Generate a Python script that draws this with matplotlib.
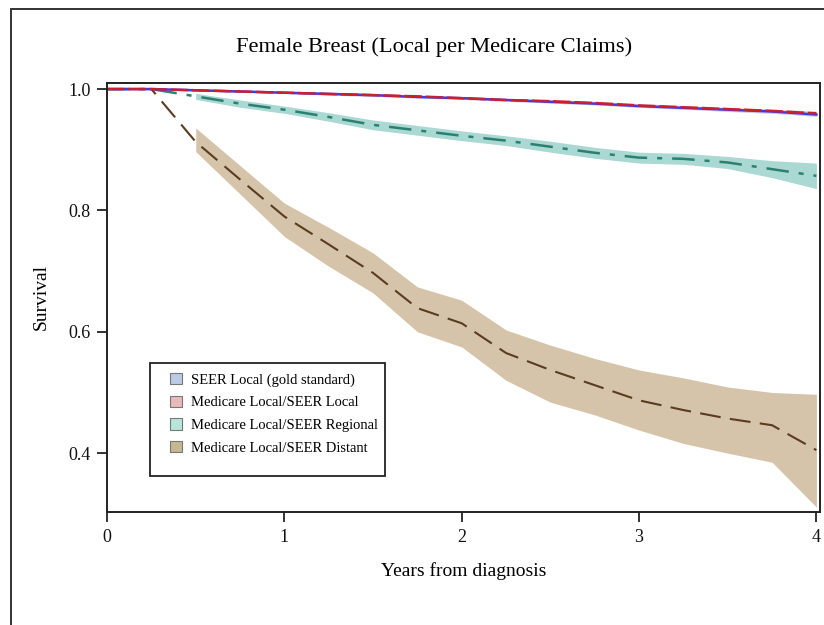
import matplotlib
matplotlib.use("Agg")
import matplotlib.pyplot as plt
from matplotlib.patches import Patch, Rectangle

plt.rcParams['font.family'] = ['Liberation Serif', 'DejaVu Serif']

# quarterly time points (years from diagnosis)
years = [0, 0.25, 0.5, 0.75, 1.0, 1.25, 1.5, 1.75, 2.0, 2.25, 2.5, 2.75, 3.0, 3.25, 3.5, 3.75, 4.0]

seer_local = [1.0, 1.0, 0.998, 0.996, 0.994, 0.992, 0.990, 0.987, 0.985, 0.982, 0.979, 0.976, 0.972, 0.969, 0.966, 0.963, 0.958]
seer_local_lo = [1.0, 1.0, 0.997, 0.995, 0.993, 0.990, 0.988, 0.985, 0.983, 0.980, 0.977, 0.974, 0.970, 0.967, 0.963, 0.960, 0.955]
seer_local_hi = [1.0, 1.0, 0.999, 0.997, 0.995, 0.994, 0.992, 0.989, 0.987, 0.984, 0.981, 0.978, 0.974, 0.971, 0.969, 0.966, 0.961]

med_local = [1.0, 1.0, 0.998, 0.996, 0.994, 0.992, 0.990, 0.988, 0.985, 0.982, 0.980, 0.977, 0.973, 0.970, 0.967, 0.964, 0.960]
med_local_lo = [1.0, 1.0, 0.997, 0.995, 0.993, 0.990, 0.988, 0.986, 0.983, 0.980, 0.977, 0.974, 0.970, 0.967, 0.964, 0.961, 0.956]
med_local_hi = [1.0, 1.0, 0.999, 0.997, 0.995, 0.994, 0.992, 0.990, 0.987, 0.984, 0.983, 0.980, 0.976, 0.973, 0.970, 0.967, 0.964]

# regional and distant bands start at 0.5 years
band_years = years[2:]

med_regional = [1.0, 1.0, 0.988, 0.976, 0.966, 0.954, 0.941, 0.932, 0.923, 0.915, 0.905, 0.895, 0.887, 0.885, 0.879, 0.868, 0.857]
regional_lo = [0.983, 0.970, 0.960, 0.947, 0.933, 0.924, 0.915, 0.907, 0.896, 0.886, 0.878, 0.876, 0.869, 0.854, 0.836]
regional_hi = [0.993, 0.982, 0.972, 0.961, 0.949, 0.940, 0.931, 0.923, 0.914, 0.904, 0.896, 0.894, 0.889, 0.882, 0.878]

med_distant = [1.0, 1.0, 0.913, 0.851, 0.790, 0.744, 0.697, 0.639, 0.614, 0.565, 0.537, 0.512, 0.487, 0.471, 0.457, 0.446, 0.405]
distant_lo = [0.897, 0.827, 0.757, 0.708, 0.664, 0.600, 0.575, 0.520, 0.484, 0.463, 0.438, 0.416, 0.400, 0.385, 0.311]
distant_hi = [0.936, 0.874, 0.812, 0.772, 0.730, 0.674, 0.652, 0.603, 0.578, 0.556, 0.537, 0.524, 0.509, 0.500, 0.497]

labels = ["SEER Local (gold standard)", "Medicare Local/SEER Local",
          "Medicare Local/SEER Regional", "Medicare Local/SEER Distant"]
legend_colors = ["#b9cbe6", "#eab9b9", "#b6e6da", "#c3b88f"]

fig = plt.figure(figsize=(8.24, 6.25), dpi=100)
ax = fig.add_axes([0.1299, 0.1808, 0.8652, 0.6864])

# outer frame of the figure (cut at right and bottom)
fig.patches.append(Rectangle((11 / 824, -0.2), 1.5, 1.2 - 9 / 625, transform=fig.transFigure,
                             fill=False, edgecolor="#333333", linewidth=1.4, clip_on=False))

# bands
ax.fill_between(band_years, distant_lo, distant_hi, color="#d6c4aa", linewidth=0)
ax.fill_between(band_years, regional_lo, regional_hi, color="#aad8d2", linewidth=0)
ax.fill_between(years, seer_local_lo, seer_local_hi, color="#c8cdf0", linewidth=0)
ax.fill_between(years, med_local_lo, med_local_hi, color="#eec6c6", linewidth=0, alpha=0.8)

# lines
ax.plot(years, med_distant, color="#5a3c20", linewidth=1.5, dashes=(10, 4.5))
ax.plot(years, med_regional, color="#2b8070", linewidth=1.8, dashes=(9, 4, 2, 4))
ax.plot(years, seer_local, color="#3a3cf0", linewidth=1.8)
ax.plot(years, med_local, color="#c8202e", linewidth=1.8, dashes=(7, 1.5))

ax.set_xlim(0, 4.02)
ax.set_ylim(0.303, 1.01)
ax.set_xticks([0, 1, 2, 3, 4])
ax.set_yticks([0.4, 0.6, 0.8, 1.0])
ax.set_yticklabels(["0.4", "0.6", "0.8", "1.0"])
ax.tick_params(direction="out", length=7, width=1.2, labelsize=13, colors="#111111", pad=5)
for s in ax.spines.values():
    s.set_linewidth(1.4)
    s.set_color("#222222")

fig.text(434 / 824, 1 - 47 / 625, "Female Breast (Local per Medicare Claims)",
         fontsize=16.2, ha="center", va="center")
ax.set_xlabel("Years from diagnosis", fontsize=14, labelpad=12)
ax.set_ylabel("Survival", fontsize=14, labelpad=13)

# legend with its own box
ax.add_patch(Rectangle((0.0603, 0.0838), 0.3296, 0.2634, transform=ax.transAxes,
                       fill=False, edgecolor="#222222", linewidth=1.3, zorder=5))
handles = [Patch(facecolor=c, edgecolor="#777777", linewidth=0.8) for c in legend_colors]
ax.legend(handles, labels, loc="upper left", bbox_to_anchor=(0.08, 0.338), frameon=False,
          fontsize=10.5, handlelength=0.85, handleheight=0.85, handletextpad=0.6,
          labelspacing=0.6, borderaxespad=0)

fig.savefig("out.png", dpi=100)
